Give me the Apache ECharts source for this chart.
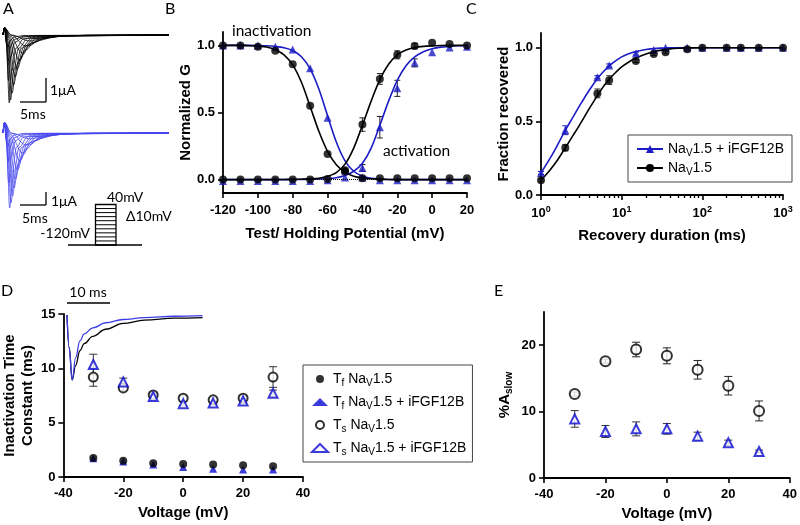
<!DOCTYPE html>
<html><head><meta charset="utf-8">
<script src="https://cdn.jsdelivr.net/npm/echarts@6/dist/echarts.min.js"></script>
<style>html,body{margin:0;padding:0;background:#fff}#c{width:800px;height:525px}</style>
</head><body><div id="c"></div>
<script>
// ---------- Panel A: current traces (time ms, current uA) ----------
const tracesBlack = [
 [[0,0],[0.3,0.3],[0.7,-0.4],[1.2,-2.83],[1.7,-1.5],[2.5,-0.55],[4,-0.15],[7,-0.03],[32,0]],
 [[0,0],[0.3,0.3],[0.8,-0.35],[1.45,-2.71],[2.1,-1.45],[3,-0.55],[4.8,-0.14],[8,-0.03],[32,0]],
 [[0,0],[0.3,0.3],[0.9,-0.3],[1.75,-2.42],[2.5,-1.35],[3.5,-0.55],[5.5,-0.14],[9,-0.03],[32,0]],
 [[0,0],[0.3,0.3],[1.0,-0.25],[2.05,-2.08],[2.9,-1.15],[4,-0.5],[6,-0.14],[10,-0.03],[32,0]],
 [[0,0],[0.3,0.3],[1.1,-0.2],[2.35,-1.75],[3.3,-1.0],[4.5,-0.45],[6.5,-0.14],[11,-0.03],[32,0]],
 [[0,0],[0.3,0.3],[1.2,-0.15],[2.75,-1.42],[3.8,-0.82],[5.2,-0.38],[7.5,-0.12],[12,-0.03],[32,0]],
 [[0,0],[0.3,0.3],[1.3,-0.1],[3.2,-1.08],[4.4,-0.62],[6,-0.3],[8.5,-0.1],[13,-0.02],[32,0]],
 [[0,0],[0.3,0.3],[1.4,-0.05],[3.7,-0.75],[5,-0.45],[7,-0.22],[10,-0.07],[15,-0.02],[32,0]],
 [[0,0],[0.3,0.3],[1.5,0],[4.4,-0.46],[6,-0.3],[8,-0.15],[11,-0.05],[16,-0.01],[32,0]],
 [[0,0],[0.3,0.3],[1.6,0],[5.2,-0.25],[7,-0.18],[9,-0.1],[12,-0.04],[18,0],[32,0]],
 [[0,0],[0.3,0.3],[0.6,-0.3],[1.05,-1.9],[1.5,-0.9],[2.3,-0.3],[4,-0.08],[7,-0.02],[32,0]],
 [[0,0],[0.3,0.3],[0.6,-0.2],[1.0,-1.1],[1.4,-0.5],[2.2,-0.18],[4,-0.05],[32,0]],
 [[0,0],[0.3,0.3],[0.6,-0.1],[0.95,-0.5],[1.4,-0.22],[2.2,-0.08],[4,-0.02],[32,0]]
];
const tracesBlue = [
 [[0,0],[0.3,0.8],[0.7,-0.8],[1.29,-5.77],[1.8,-3.0],[2.6,-1.1],[4,-0.3],[7,-0.05],[32,0]],
 [[0,0],[0.3,0.8],[0.8,-0.7],[1.54,-5.38],[2.2,-2.9],[3.1,-1.1],[4.8,-0.28],[8,-0.05],[32,0]],
 [[0,0],[0.3,0.8],[0.9,-0.6],[1.83,-4.85],[2.6,-2.7],[3.6,-1.1],[5.5,-0.28],[9,-0.05],[32,0]],
 [[0,0],[0.3,0.8],[1.0,-0.5],[2.12,-4.23],[3.0,-2.35],[4.1,-1.0],[6,-0.28],[10,-0.05],[32,0]],
 [[0,0],[0.3,0.8],[1.1,-0.4],[2.4,-3.54],[3.4,-2.0],[4.6,-0.9],[6.6,-0.28],[11,-0.05],[32,0]],
 [[0,0],[0.3,0.8],[1.2,-0.3],[2.79,-2.85],[3.9,-1.65],[5.3,-0.76],[7.6,-0.24],[12,-0.05],[32,0]],
 [[0,0],[0.3,0.8],[1.3,-0.2],[3.27,-2.15],[4.5,-1.25],[6.1,-0.6],[8.6,-0.2],[13,-0.04],[32,0]],
 [[0,0],[0.3,0.8],[1.4,-0.1],[3.75,-1.54],[5.1,-0.92],[7,-0.45],[10,-0.14],[15,-0.03],[32,0]],
 [[0,0],[0.3,0.8],[1.5,0],[4.42,-0.92],[6,-0.6],[8,-0.3],[11,-0.1],[16,-0.02],[32,0]],
 [[0,0],[0.3,0.8],[1.6,0],[5.19,-0.46],[7,-0.35],[9,-0.2],[12,-0.08],[18,0],[32,0]],
 [[0,0],[0.3,0.8],[0.6,-0.5],[1.1,-3.8],[1.6,-1.8],[2.4,-0.6],[4,-0.15],[7,-0.03],[32,0]],
 [[0,0],[0.3,0.8],[0.6,-0.4],[1.0,-2.2],[1.45,-1.0],[2.2,-0.35],[4,-0.08],[32,0]],
 [[0,0],[0.3,0.8],[0.6,-0.2],[0.95,-1.0],[1.4,-0.45],[2.2,-0.15],[4,-0.03],[32,0]]
];

// ---------- Panel B ----------
const voltB = [-120,-110,-100,-90,-80,-70,-60,-50,-40,-30,-20,-10,0,10,20];
const inactBlack = [1.0,1.0,0.99,0.96,0.86,0.55,0.19,0.06,0.01,0.01,0.01,0.01,0.01,0.01,0.01];
const inactBlue  = [1.0,1.0,1.0,0.99,0.97,0.83,0.46,0.07,0.015,-0.005,-0.005,-0.005,-0.005,-0.005,-0.005];
const actBlack   = [0,0,0,0,0,0,0.005,0.07,0.41,0.75,0.93,0.995,1.02,1.01,1.0];
const actBlue    = [-0.01,-0.01,-0.01,-0.01,-0.01,-0.01,-0.005,0.015,0.087,0.39,0.68,0.87,0.95,0.985,0.99];
const semActBlack= [0,0,0,0,0,0,0,0,0.05,0.04,0.03,0.02,0,0,0];
const semActBlue = [0,0,0,0,0,0,0,0,0.025,0.08,0.06,0.03,0,0,0];
// fitted curves, every 5 mV
const fitV = [-120,-115,-110,-105,-100,-95,-90,-85,-80,-75,-70,-65,-60,-55,-50,-45,-40,-35,-30,-25,-20,-15,-10,-5,0,5,10,15,20];
const fitInactBlack = [1.0,1.0,1.0,0.998,0.995,0.988,0.968,0.93,0.855,0.725,0.545,0.36,0.21,0.11,0.055,0.025,0.012,0.006,0.003,0.001,0,0,0,0,0,0,0,0,0];
const fitInactBlue  = [1.0,1.0,1.0,1.0,0.999,0.997,0.992,0.983,0.962,0.915,0.825,0.675,0.475,0.28,0.14,0.062,0.025,0.01,0.004,0.001,0,0,0,0,0,0,0,0,0];
const fitActBlack   = [0,0,0,0,0,0,0,0.001,0.002,0.003,0.005,0.01,0.024,0.052,0.115,0.235,0.405,0.585,0.745,0.86,0.93,0.965,0.984,0.993,0.997,0.999,1.0,1.0,1.0];
const fitActBlue    = [0,0,0,0,0,0,0,0,0,0.001,0.002,0.004,0.007,0.014,0.03,0.062,0.122,0.235,0.405,0.585,0.74,0.848,0.914,0.953,0.975,0.987,0.993,0.997,0.998];

// ---------- Panel C ----------
const recTime  = [1,2,5,7,15,25,35,65,100,200,300,500,1000];
const recBlack = [0.10,0.32,0.69,0.78,0.91,0.957,0.97,0.99,1.0,1.0,1.0,1.0,1.0];
const recBlue  = [0.15,0.44,0.80,0.88,0.96,0.985,1.0,1.0,1.0,1.0,1.0,1.0,1.0];
const semRecBlack = [0.01,0.02,0.03,0.03,0.01,0.01,0.01,0,0,0,0,0,0];
const semRecBlue  = [0.01,0.03,0.01,0.01,0.01,0,0,0,0,0,0,0,0];
// fitted curves
const fitT = [1,1.25,1.5,1.75,2,2.5,3,4,5,6,7,8,10,12,15,20,25,30,40,50,70,100,200,1000];
const fitRecBlack = [0.10,0.16,0.215,0.27,0.32,0.405,0.475,0.59,0.675,0.74,0.785,0.82,0.87,0.9,0.93,0.958,0.973,0.982,0.992,0.996,0.999,1.0,1.0,1.0];
const fitRecBlue  = [0.15,0.235,0.31,0.38,0.44,0.53,0.605,0.715,0.79,0.84,0.875,0.902,0.938,0.958,0.974,0.988,0.994,0.997,0.999,1.0,1.0,1.0,1.0,1.0];

// ---------- Panel D ----------
const voltD = [-30,-20,-10,0,10,20,30];
const tfBlack = [1.75,1.5,1.26,1.2,1.14,1.08,1.0];
const tfBlue  = [1.72,1.42,1.14,0.92,0.77,0.7,0.68];
const tsBlack = [9.2,8.2,7.55,7.25,7.1,7.25,9.2];
const tsBlue  = [10.35,8.75,7.4,6.75,6.8,7.0,7.7];
const semTsBlack = [0.85,0.25,0.2,0.2,0.2,0.2,0.95];
const semTsBlue  = [0.95,0.35,0.2,0.2,0.15,0.2,0.3];
// inset: normalized current traces (ms, I/Ipeak)
const insetBlack = [[0,0],[0.5,-0.5],[1.2,-1],[2,-0.78],[3,-0.55],[4,-0.44],[6,-0.33],[9,-0.22],[13,-0.13],[18,-0.08],[25,-0.05],[31.5,-0.04]];
const insetBlue  = [[0,0],[0.5,-0.5],[1.2,-1],[2,-0.66],[3,-0.4],[4,-0.29],[6,-0.2],[9,-0.12],[13,-0.07],[18,-0.04],[25,-0.02],[31.5,-0.01]];

// ---------- Panel E ----------
const aSlowBlack = [12.65,17.6,19.35,18.4,16.3,13.9,10.1];
const aSlowBlue  = [8.9,7.0,7.4,7.4,6.3,5.3,4.0];
const semASlowBlack = [0.3,0.3,1.1,1.2,1.4,1.4,1.5];
const semASlowBlue  = [1.25,0.9,1.05,0.8,0.6,0.4,0.2];

// ---------- styling ----------
const FONT = 'Liberation Sans, Arial, sans-serif';
const LFONT = 'Lato, Open Sans, sans-serif';
const BLUE = '#1c1cc4';
const BLUE_D = '#0a0ad0';
const BLUE_A = '#4646ee';
const AXL = {color:'#000', width:1.8};

function axisV(o){
  return Object.assign({
    type:'value', axisLine:{show:true,onZero:false,lineStyle:AXL},
    axisTick:{show:true,length:5,lineStyle:{color:'#000',width:1.6}},
    splitLine:{show:false},
    axisLabel:{color:'#000',fontWeight:'bold',fontSize:13,fontFamily:FONT,margin:8},
    nameLocation:'middle',
    nameTextStyle:{color:'#000',fontWeight:'bold',fontSize:15,fontFamily:FONT}
  }, o);
}
function hidden(o){ return Object.assign({type:'value',show:false,splitLine:{show:false}}, o); }

function errSeries(xi, yi, xs, ys, sems, color, cap){
  const data = [];
  xs.forEach((x,i)=>{ if (sems[i] > 0) data.push([x, ys[i]-sems[i], ys[i]+sems[i]]); });
  return {type:'custom', xAxisIndex:xi, yAxisIndex:yi, silent:true, z:1, data,
    encode:{x:0, y:[1,2]},
    renderItem:(params, api)=>{
      const x = api.value(0);
      const a = api.coord([x, api.value(1)]), b = api.coord([x, api.value(2)]);
      const st = {stroke:color, lineWidth:1};
      return {type:'group', children:[
        {type:'line', shape:{x1:a[0],y1:a[1],x2:b[0],y2:b[1]}, style:st},
        {type:'line', shape:{x1:a[0]-cap,y1:a[1],x2:a[0]+cap,y2:a[1]}, style:st},
        {type:'line', shape:{x1:b[0]-cap,y1:b[1],x2:b[0]+cap,y2:b[1]}, style:st}
      ]};
    }};
}
function zip(xs, ys){ return xs.map((x,i)=>[x, ys[i]]); }

const series = [];
tracesBlack.forEach(t => series.push({type:'line', xAxisIndex:0, yAxisIndex:0, data:t, symbol:'none',
  smooth:0.35, smoothMonotone:'x', silent:true, lineStyle:{color:'#000', width:0.8}}));
tracesBlue.forEach(t => series.push({type:'line', xAxisIndex:1, yAxisIndex:1, data:t, symbol:'none',
  smooth:0.35, smoothMonotone:'x', silent:true, lineStyle:{color:BLUE_A, width:0.8}}));

// Panel B
function bFit(ys, color){
  return {type:'line', xAxisIndex:2, yAxisIndex:2, data:zip(fitV, ys), smooth:0.3, symbol:'none', silent:true,
    lineStyle:{color, width:1.6}, z:2};
}
function bPts(ys, color, sym){
  return {type:'scatter', xAxisIndex:2, yAxisIndex:2, data:zip(voltB, ys), symbol:sym, symbolSize:8,
    itemStyle:{color}, z:4, silent:true};
}
series.push(Object.assign(bFit(fitInactBlue, BLUE), {
  markLine:{silent:true, symbol:'none', label:{show:false}, lineStyle:{color:'#000', type:'dotted', width:1}, data:[{yAxis:0}]}}));
series.push(bFit(fitActBlue, BLUE));
series.push(bFit(fitInactBlack, '#000'));
series.push(bFit(fitActBlack, '#000'));
series.push(errSeries(2,2,voltB,actBlack,semActBlack,'#222',3));
series.push(errSeries(2,2,voltB,actBlue,semActBlue,'#222',3));
series.push(bPts(inactBlue, BLUE, 'triangle'));
series.push(bPts(actBlue, BLUE, 'triangle'));
series.push(bPts(inactBlack, '#000', 'circle'));
series.push(bPts(actBlack, '#000', 'circle'));

// Panel C
series.push({type:'line', name:'NaV1.5 + iFGF12B', xAxisIndex:3, yAxisIndex:3, data:zip(fitT, fitRecBlue), smooth:0.3,
  symbol:'triangle', symbolSize:8, showSymbol:false, lineStyle:{color:BLUE, width:1.6}, itemStyle:{color:BLUE}, z:2});
series.push({type:'line', name:'NaV1.5', xAxisIndex:3, yAxisIndex:3, data:zip(fitT, fitRecBlack), smooth:0.3,
  symbol:'circle', symbolSize:8, showSymbol:false, lineStyle:{color:'#000', width:1.6}, itemStyle:{color:'#000'}, z:2});
series.push(errSeries(3,3,recTime,recBlack,semRecBlack,'#333',3));
series.push(errSeries(3,3,recTime,recBlue,semRecBlue,BLUE,3));
series.push({type:'scatter', xAxisIndex:3, yAxisIndex:3, data:zip(recTime, recBlue), symbol:'triangle', symbolSize:8, itemStyle:{color:BLUE}, z:4, silent:true});
series.push({type:'scatter', xAxisIndex:3, yAxisIndex:3, data:zip(recTime, recBlack), symbol:'circle', symbolSize:8, itemStyle:{color:'#000'}, z:4, silent:true});

// Panel D
series.push(errSeries(4,4,voltD,tsBlack,semTsBlack,'#333',4));
series.push(errSeries(4,4,voltD,tsBlue,semTsBlue,'#333',4));
series.push({type:'scatter', name:'Tf NaV1.5 + iFGF12B', xAxisIndex:4, yAxisIndex:4, data:zip(voltD, tfBlue), symbol:'triangle', symbolSize:8, itemStyle:{color:BLUE_D}, z:3});
series.push({type:'scatter', name:'Tf NaV1.5', xAxisIndex:4, yAxisIndex:4, data:zip(voltD, tfBlack), symbol:'circle', symbolSize:8, itemStyle:{color:'#000'}, z:4});
series.push({type:'scatter', name:'Ts NaV1.5', xAxisIndex:4, yAxisIndex:4, data:zip(voltD, tsBlack), symbol:'emptyCircle', symbolSize:9, itemStyle:{color:'#000', borderWidth:1.6}, z:3});
series.push({type:'scatter', name:'Ts NaV1.5 + iFGF12B', xAxisIndex:4, yAxisIndex:4, data:zip(voltD, tsBlue), symbol:'emptyTriangle', symbolSize:9, itemStyle:{color:BLUE_D, borderWidth:1.6}, z:4});
// inset
series.push({type:'line', xAxisIndex:5, yAxisIndex:5, data:insetBlack, smooth:0.4, smoothMonotone:'x', symbol:'none', silent:true, lineStyle:{color:'#000', width:1.3}});
series.push({type:'line', xAxisIndex:5, yAxisIndex:5, data:insetBlue, smooth:0.4, smoothMonotone:'x', symbol:'none', silent:true, lineStyle:{color:'#3c3ce6', width:1.3}});

// Panel E
series.push(errSeries(6,6,voltD,aSlowBlack,semASlowBlack,'#222',4));
series.push(errSeries(6,6,voltD,aSlowBlue,semASlowBlue,'#333',4));
series.push({type:'scatter', name:'eBlack', xAxisIndex:6, yAxisIndex:6, data:zip(voltD, aSlowBlack), symbol:'emptyCircle', symbolSize:10, itemStyle:{color:'#000', borderWidth:1.6}, z:3});
series.push({type:'scatter', name:'eBlue', xAxisIndex:6, yAxisIndex:6, data:zip(voltD, aSlowBlue), symbol:'emptyTriangle', symbolSize:9, itemStyle:{color:BLUE_D, borderWidth:1.6}, z:3});

const minorLog = [2,3,4,5,6,7,8,9,20,30,40,50,60,70,80,90,200,300,400,500,600,700,800,900];

const richLeg = {
  n:{fontSize:14, fontFamily:FONT, color:'#000', lineHeight:18, verticalAlign:'middle'},
  s:{fontSize:10, fontFamily:FONT, color:'#000', lineHeight:10, padding:[8,0,0,0], verticalAlign:'middle'}
};
const legNames = {
  'NaV1.5 + iFGF12B':'{n|Na}{s|V}{n|1.5 + iFGF12B}',
  'NaV1.5':'{n|Na}{s|V}{n|1.5}',
  'Tf NaV1.5':'{n|T}{s|f}{n| Na}{s|V}{n|1.5}',
  'Tf NaV1.5 + iFGF12B':'{n|T}{s|f}{n| Na}{s|V}{n|1.5 + iFGF12B}',
  'Ts NaV1.5':'{n|T}{s|s}{n| Na}{s|V}{n|1.5}',
  'Ts NaV1.5 + iFGF12B':'{n|T}{s|s}{n| Na}{s|V}{n|1.5 + iFGF12B}'
};

// decorations
function txt(x, y, s, size, align, extra){
  return Object.assign({type:'text', x, y, silent:true, style:{text:s, fill:'#000', fontSize:size||15, fontFamily:LFONT,
    align:align||'left', verticalAlign:'middle', textAlign:align||'left', textVerticalAlign:'middle'}}, extra||{});
}
function ln(x1,y1,x2,y2,w,c){ return {type:'line', silent:true, shape:{x1,y1,x2,y2}, style:{stroke:c||'#000', lineWidth:w||1.3}}; }
const graphic = [
  txt(3,9,'A',16), txt(165,9,'B',16), txt(466,9,'C',16), txt(1,291,'D',16), txt(494,291,'E',16),
  // scale bars A
  ln(46,78,46,102), ln(20,102,46,102), txt(50,90,'1μA',14), txt(20,114,'5ms',14),
  ln(46,192,46,205), ln(20,205,46,205), txt(51,201,'1μA',14), txt(22,218,'5ms',14),
  // protocol
  {type:'rect', silent:true, shape:{x:95.5,y:204.5,width:20.5,height:40.5}, style:{fill:'none', stroke:'#000', lineWidth:1.3}},
  ln(68,245,142,245,1.5),
  txt(107,197,'40mV',14), txt(90,233,'-120mV',14,'right'), txt(126,216,'Δ10mV',14),
  // B annotations
  txt(232,31,'inactivation',15.5), txt(383,151,'activation',15.5),
  // D inset scale
  ln(67,303,110,303,1.6), txt(88,292,'10 ms',14,'center')
];
for (let k=1;k<=9;k++){ const y = 204.5 + k*4.05; graphic.push(ln(95.5,y,116,y,1)); }

const option = {
  animation:false,
  textStyle:{fontFamily:FONT},
  grid:[
    {left:3, top:23, width:166, height:84},
    {left:3, top:121.3, width:166, height:89.7},
    {left:223, top:32, width:244, height:161},
    {left:541, top:33, width:242, height:162},
    {left:63, top:314, width:240, height:163},
    {left:67, top:313, width:136, height:67},
    {left:544, top:312, width:249, height:166}
  ],
  xAxis:[
    hidden({gridIndex:0,min:0,max:32}),
    hidden({gridIndex:1,min:0,max:32}),
    axisV({gridIndex:2,min:-120,max:20,interval:20,name:'Test/ Holding Potential (mV)',nameGap:33, axisLabel:{color:'#000',fontWeight:'bold',fontSize:13,fontFamily:FONT,margin:11}}),
    axisV({gridIndex:3,type:'log',logBase:10,min:1,max:1000,name:'Recovery duration (ms)',nameGap:33,
      axisLabel:{margin:10,formatter:v=>'{b|10}{p|'+Math.round(Math.log10(v))+'}',
        rich:{b:{fontSize:13,fontWeight:'bold',fontFamily:FONT,color:'#000'},p:{fontSize:9,fontWeight:'bold',fontFamily:FONT,color:'#000',padding:[0,0,8,0]}}}}),
    axisV({gridIndex:4,min:-40,max:40,interval:20,name:'Voltage (mV)',nameGap:28, axisLabel:{color:'#000',fontWeight:'bold',fontSize:13,fontFamily:FONT,margin:10}}),
    hidden({gridIndex:5,min:0,max:31.6}),
    axisV({gridIndex:6,min:-40,max:40,interval:20,name:'Voltage (mV)',nameGap:28, axisLabel:{color:'#000',fontWeight:'bold',fontSize:13,fontFamily:FONT,margin:10}}),
    {type:'log',gridIndex:3,logBase:10,min:1,max:1000,position:'bottom',axisLine:{show:false},axisLabel:{show:false},splitLine:{show:false},
      axisTick:{show:true,length:3,customValues:minorLog,lineStyle:{color:'#000',width:1.3}}}
  ],
  yAxis:[
    hidden({gridIndex:0,min:-3,max:0.5}),
    hidden({gridIndex:1,min:-6,max:0.9}),
    axisV({gridIndex:2,min:-0.1,max:1.1,name:'Normalized G',nameGap:30,
      axisTick:{show:true,length:5,customValues:[0,0.5,1],lineStyle:{color:'#000',width:1.6}},
      axisLabel:{color:'#000',fontWeight:'bold',fontSize:13,fontFamily:FONT,margin:8,customValues:[0,0.5,1],formatter:v=>v.toFixed(1)}}),
    axisV({gridIndex:3,min:0,max:1.1,name:'Fraction recovered',nameGap:30,
      axisTick:{show:true,length:5,customValues:[0,0.5,1],lineStyle:{color:'#000',width:1.6}},
      axisLabel:{color:'#000',fontWeight:'bold',fontSize:13,fontFamily:FONT,margin:8,customValues:[0,0.5,1],formatter:v=>v.toFixed(1)}}),
    axisV({gridIndex:4,min:0,max:15,interval:5,name:'Inactivation Time\nConstant (ms)',nameGap:25,
      nameTextStyle:{color:'#000',fontWeight:'bold',fontSize:15,fontFamily:FONT,lineHeight:18}}),
    hidden({gridIndex:5,min:-1.0,max:0.03}),
    axisV({gridIndex:6,min:0,max:25,name:'%{b|A}{s|slow}',nameGap:30,
      axisTick:{show:true,length:5,customValues:[0,10,20],lineStyle:{color:'#000',width:1.6}},
      axisLabel:{color:'#000',fontWeight:'bold',fontSize:13,fontFamily:FONT,margin:8,customValues:[0,10,20]},
      nameTextStyle:{color:'#000',fontWeight:'bold',fontSize:15,fontFamily:FONT,
        rich:{b:{fontSize:15,fontWeight:'bold',fontFamily:FONT,color:'#000'},s:{fontSize:10,fontWeight:'bold',fontFamily:FONT,color:'#000',padding:[8,0,0,0]}}}})
  ],
  legend:[
    {left:628, top:135, orient:'vertical', data:['NaV1.5 + iFGF12B','NaV1.5'],
      itemWidth:26, itemHeight:10, itemGap:1,
      padding:[5,8,5,8], borderColor:'#444', borderWidth:1, selectedMode:false,
      formatter:n=>legNames[n], textStyle:{rich:richLeg}},
    {left:303, top:365, orient:'vertical', data:['Tf NaV1.5','Tf NaV1.5 + iFGF12B','Ts NaV1.5','Ts NaV1.5 + iFGF12B'], itemWidth:16, itemHeight:8, itemGap:5,
      padding:[5,6,5,8], borderColor:'#444', borderWidth:1, selectedMode:false,
      formatter:n=>legNames[n], textStyle:{rich:richLeg}}
  ],
  graphic,
  series
};
const chart = echarts.init(document.getElementById('c'), null, {renderer:'canvas'});
chart.setOption(option);
</script></body></html>
